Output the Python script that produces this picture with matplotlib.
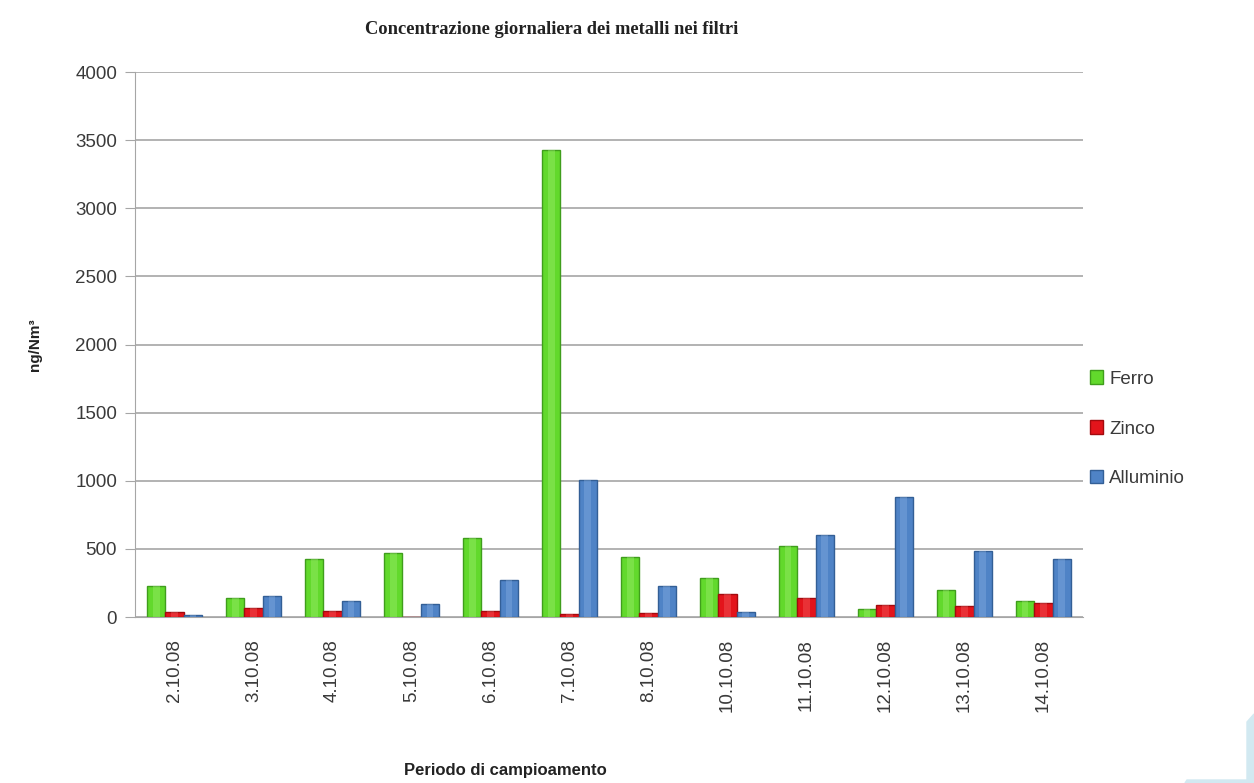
import matplotlib.pyplot as plt
import numpy as np
from matplotlib.patches import Polygon

dates = ['2.10.08', '3.10.08', '4.10.08', '5.10.08', '6.10.08', '7.10.08',
         '8.10.08', '10.10.08', '11.10.08', '12.10.08', '13.10.08', '14.10.08']
ferro = [229, 138, 426, 468, 581, 3430, 438, 286, 520, 57, 200, 118]
zinco = [40, 64, 44, 0, 44, 25, 30, 172, 138, 86, 84, 105]
alluminio = [15, 155, 118, 95, 273, 1005, 224, 40, 603, 882, 488, 426]

series = [
    ('Ferro', ferro, '#62d92c', '#3f9e1c', '#a8f27c'),
    ('Zinco', zinco, '#e3141b', '#a30a0e', '#f56a6a'),
    ('Alluminio', alluminio, '#4f83c6', '#335f96', '#8fb6e6'),
]

fig = plt.figure(figsize=(12.54, 7.83), dpi=100)
ax = fig.add_axes([0.1077, 0.212, 0.7559, 0.696])

x = np.arange(len(dates))
w = 0.23
for i, (name, vals, col, edge, hi) in enumerate(series):
    pos = x + (i - 1) * w
    ax.bar(pos, vals, width=w, color=col, edgecolor=edge, linewidth=1.0,
           label=name, zorder=3)
    # lighter stripe down the middle for a rounded look
    ax.bar(pos, vals, width=w * 0.35, color=hi, alpha=0.35, linewidth=0,
           zorder=4)

ax.set_xlim(-0.5, len(dates) - 0.5)
ax.set_ylim(0, 4000)
ax.set_yticks(np.arange(0, 4001, 500))
ax.set_xticks(x)
ax.set_xticklabels(dates, rotation=90, fontsize=13.5, color='#3a3a3a',
                   family='Liberation Sans')
for lab in ax.get_yticklabels():
    lab.set_fontsize(13.5)
    lab.set_color('#3a3a3a')
    lab.set_family('Liberation Sans')

ax.grid(axis='y', color='#a6a6a6', linewidth=1.2, zorder=0)
for s in ['top', 'right']:
    ax.spines[s].set_visible(False)
ax.spines['left'].set_color('#a6a6a6')
ax.spines['bottom'].set_color('#a6a6a6')
ax.tick_params(axis='y', length=7, color='#a6a6a6', pad=6)
ax.tick_params(axis='x', length=0, pad=16)

fig.text(0.44, 0.962, 'Concentrazione giornaliera dei metalli nei filtri',
         ha='center', va='center', family='Liberation Serif',
         fontweight='bold', fontsize=13.3, color='#222222')
fig.text(0.028, 0.56, 'ng/Nm³', rotation=90, ha='center', va='center',
         fontweight='bold', fontsize=11, color='#222222',
         family='Liberation Sans')
fig.text(0.403, 0.016, 'Periodo di campioamento', ha='center', va='center',
         fontweight='bold', fontsize=12, color='#222222',
         family='Liberation Sans')

leg = ax.legend(loc='center left', bbox_to_anchor=(0.99, 0.345), frameon=False,
                labelspacing=1.75, handlelength=0.7,
                handleheight=0.7, handletextpad=0.3,
                prop={'family': 'Liberation Sans', 'size': 13.5})
for t in leg.get_texts():
    t.set_color('#3a3a3a')

# small pale corner shape at the bottom right
fig.patches.append(Polygon([[1247 / 1254, 1 - 722 / 783], [1, 1 - 714 / 783],
                            [1, 0], [1185 / 1254, 0],
                            [1187 / 1254, 1 - 780 / 783],
                            [1247 / 1254, 1 - 780 / 783]],
                           closed=True, transform=fig.transFigure,
                           color='#d2e9f1', zorder=0))

fig.savefig('out.png', dpi=100)
